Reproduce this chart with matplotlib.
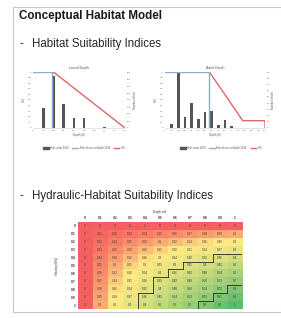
import matplotlib.pyplot as plt
import numpy as np
from matplotlib.colors import LinearSegmentedColormap, TwoSlopeNorm
from matplotlib.lines import Line2D

W, H = 281, 318

# Larval depth chart
larval_bin_depth = [0.3, 0.6, 0.9, 1.2, 1.5, 2.1]
larval_fish_count = [290, 740, 345, 145, 145, 8]
larval_hsi_depth = [0, 0.6, 2.7]
larval_hsi = [1, 1, 0]
larval_obs_depth = [0, 0.57, 0.57]
larval_obs = [1, 1, 0]
larval_ticks = [0, 0.3, 0.6, 0.9, 1.2, 1.5, 1.8, 2.1, 2.4, 2.7]

# Adult depth chart
adult_bin_depth = [0.3, 0.6, 0.9, 1.2, 1.5, 1.8, 2.1, 2.4, 2.7, 3.0]
adult_fish_count = [6, 90, 17, 40, 15, 25, 27, 5, 13, 3]
adult_hsi_depth = [0, 2.0, 3.5, 4.5, 4.5]
adult_hsi = [1, 1, 0.13, 0.13, 0]
adult_obs_depth = [0, 2.0, 2.0]
adult_obs = [1, 1, 0]
adult_ticks = [0, 0.3, 0.6, 0.9, 1.2, 1.5, 1.8, 2.1, 2.4, 2.7, 3,
               3.3, 3.6, 3.9, 4.2, 4.5]

# Hydraulic-habitat suitability index table
depth_labels = ["0", "0.1", "0.2", "0.3", "0.4", "0.5",
                "0.6", "0.7", "0.8", "0.9", "1"]
velocity_labels = ["0", "0.1", "0.2", "0.3", "0.4", "0.5",
                   "0.6", "0.7", "0.8", "0.9", "1"]
hhsi = [
    [0, 0, 0, 0, 0, 0, 0, 0, 0, 0, 0],
    [0, 0.01, 0.02, 0.03, 0.04, 0.05, 0.06, 0.07, 0.08, 0.09, 0.1],
    [0, 0.02, 0.04, 0.06, 0.08, 0.1, 0.12, 0.14, 0.16, 0.18, 0.2],
    [0, 0.03, 0.06, 0.09, 0.12, 0.15, 0.18, 0.21, 0.24, 0.27, 0.3],
    [0, 0.04, 0.08, 0.12, 0.16, 0.2, 0.24, 0.28, 0.32, 0.36, 0.4],
    [0, 0.05, 0.1, 0.15, 0.2, 0.25, 0.3, 0.35, 0.4, 0.45, 0.5],
    [0, 0.06, 0.12, 0.18, 0.24, 0.3, 0.36, 0.42, 0.48, 0.54, 0.6],
    [0, 0.07, 0.14, 0.21, 0.28, 0.35, 0.42, 0.49, 0.56, 0.63, 0.7],
    [0, 0.08, 0.16, 0.24, 0.32, 0.4, 0.48, 0.56, 0.64, 0.72, 0.8],
    [0, 0.09, 0.18, 0.27, 0.36, 0.45, 0.54, 0.63, 0.72, 0.81, 0.9],
    [0, 0.1, 0.2, 0.3, 0.4, 0.5, 0.6, 0.7, 0.8, 0.9, 1],
]
contour_levels = [0.35, 0.8]

BAR = "#555555"
BLUE = "#8eaadb"
RED = "#e06666"
TXT = "#595959"

plt.rcParams["font.family"] = ["Liberation Sans", "DejaVu Sans"]


def box(x0, y0, x1, y1):
    return [x0 / W, 1 - y1 / H, (x1 - x0) / W, (y1 - y0) / H]


def depth_chart(rect, title, bins, counts, width, count_max, count_step,
                hsi_x, hsi_y, obs_x, obs_y, ticks, xmax, legend_x):
    ax = fig.add_axes(box(*rect))
    ax2 = ax.twinx()
    ax.set_zorder(ax2.get_zorder() + 1)
    ax.patch.set_visible(False)

    ax2.bar(bins, counts, width=width, color=BAR)
    ax2.set_ylim(0, count_max)
    ax2.set_yticks(np.arange(0, count_max + 1, count_step))

    ax.plot(hsi_x, hsi_y, color=RED, linewidth=1.0)
    ax.plot(obs_x, obs_y, color=BLUE, linewidth=1.0)

    ax.set_xlim(0, xmax)
    ax.set_ylim(0, 1)
    ax.set_yticks(np.arange(0, 1.01, 0.1))
    ax.set_yticklabels(["0", "0.1", "0.2", "0.3", "0.4", "0.5",
                        "0.6", "0.7", "0.8", "0.9", "1"])
    ax.set_xticks(ticks)
    ax.set_xticklabels([f"{t:g}" for t in ticks])

    for a in (ax, ax2):
        a.tick_params(length=0, labelsize=1.7, labelcolor=TXT, pad=1.2)
        for s in a.spines.values():
            s.set_visible(False)
    ax.spines["bottom"].set_visible(True)
    ax.spines["bottom"].set_color("#d0d0d0")
    ax.spines["bottom"].set_linewidth(0.4)

    ax.set_title(title, fontsize=2.5, color=TXT, pad=2)
    ax.set_xlabel("Depth (ft)", fontsize=2.0, color=TXT, labelpad=1.5)
    ax.set_ylabel("HSI", fontsize=2.0, color=TXT, labelpad=1.5)
    ax2.set_ylabel("Number of fish", fontsize=2.0, color=TXT, labelpad=1.5)

    handles = [
        plt.Rectangle((0, 0), 1, 1, color=BAR),
        Line2D([], [], color=BLUE, linewidth=1.0),
        Line2D([], [], color=RED, linewidth=1.0),
    ]
    fig.legend(handles, ["Fish count 2019", "Fish observed depth 2019", "HSI"],
               loc="center", bbox_to_anchor=(legend_x / W, 1 - 148 / H),
               ncol=3, frameon=False, fontsize=1.9, labelcolor=TXT,
               handlelength=2.2, handletextpad=0.5, columnspacing=1.5)
    return ax


fig = plt.figure(figsize=(W / 100, H / 100), dpi=100)
fig.patch.set_facecolor("white")

# slide border
edge = dict(color="#c8c8c8", linewidth=0.8, transform=fig.transFigure)
fig.add_artist(Line2D([13 / W, 13 / W], [1 - 7 / H, 1 - 312 / H], **edge))
fig.add_artist(Line2D([13 / W, 1.0], [1 - 7 / H, 1 - 7 / H], **edge))
fig.add_artist(Line2D([13 / W, 1.0], [1 - 312 / H, 1 - 312 / H], **edge))

fig.text(19 / W, 1 - 16 / H, "Conceptual Habitat Model", fontsize=8.4,
         fontweight="bold", color="#1a1a1a", va="center")
fig.text(19 / W, 1 - 44 / H, "-", fontsize=8.3, color="#262626", va="center")
fig.text(32 / W, 1 - 44 / H, "Habitat Suitability Indices", fontsize=8.3,
         color="#262626", va="center")
fig.text(19 / W, 1 - 196 / H, "-", fontsize=8.3, color="#262626", va="center")
fig.text(32 / W, 1 - 196 / H, "Hydraulic-Habitat Suitability Indices",
         fontsize=8.3, color="#262626", va="center")

depth_chart((33, 72, 125, 128), "Larval Depth", larval_bin_depth,
            larval_fish_count, 0.075, 800, 100, larval_hsi_depth, larval_hsi,
            larval_obs_depth, larval_obs, larval_ticks, 2.7, 84)
depth_chart((165, 72, 265, 128), "Adult Depth", adult_bin_depth,
            adult_fish_count, 0.11, 90, 10, adult_hsi_depth, adult_hsi,
            adult_obs_depth, adult_obs, adult_ticks, 4.5, 221)

# heatmap
vals = np.array(hhsi)
cmap = LinearSegmentedColormap.from_list(
    "ryg", ["#f4605f", "#ffeb84", "#5bbb6f"])
norm = TwoSlopeNorm(vmin=0, vcenter=0.18, vmax=1)

hx = fig.add_axes(box(77.5, 222, 242.5, 309))
hx.imshow(vals, cmap=cmap, norm=norm, aspect="auto", interpolation="nearest")
for r in range(vals.shape[0]):
    for c in range(vals.shape[1]):
        hx.text(c, r, f"{vals[r, c]:g}", ha="center", va="center",
                fontsize=2.2, color="#3a3a3a")

for level in contour_levels:
    mask = vals >= level - 1e-9
    for r in range(mask.shape[0]):
        for c in range(mask.shape[1]):
            if not mask[r, c]:
                continue
            if r > 0 and not mask[r - 1, c]:
                hx.plot([c - 0.5, c + 0.5], [r - 0.5, r - 0.5],
                        color="#2b2b2b", linewidth=0.6)
            if c > 0 and not mask[r, c - 1]:
                hx.plot([c - 0.5, c - 0.5], [r - 0.5, r + 0.5],
                        color="#2b2b2b", linewidth=0.6)

hx.set_xlim(-0.5, vals.shape[1] - 0.5)
hx.set_ylim(vals.shape[0] - 0.5, -0.5)
hx.xaxis.tick_top()
hx.set_xticks(range(len(depth_labels)))
hx.set_xticklabels(depth_labels, fontweight="bold")
hx.set_yticks(range(len(velocity_labels)))
hx.set_yticklabels(velocity_labels, fontweight="bold")
hx.tick_params(length=0, labelsize=2.4, labelcolor="#333333", pad=1.5)
for s in hx.spines.values():
    s.set_visible(False)
hx.set_xlabel("Depth m3", fontsize=2.2, color="#333333", labelpad=2)
hx.xaxis.set_label_position("top")
hx.set_ylabel("Velocity (M/s)", fontsize=2.2, color="#333333", labelpad=8)

fig.savefig("out.png", dpi=100)
